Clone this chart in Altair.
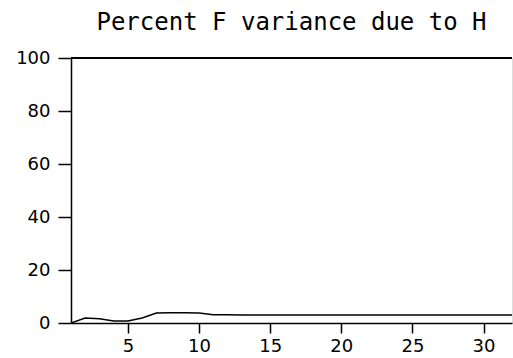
import altair as alt
import pandas as pd

# Variance decomposition: share of F's forecast-error variance explained by H
periods = list(range(1, 33))
percent_h = [0.0, 1.9, 1.6, 0.8, 0.8, 1.9, 3.8, 3.9, 3.9, 3.8,
             3.1, 3.1, 3.0, 3.0, 3.0, 3.0, 3.0, 3.0, 3.0, 3.0,
             3.0, 3.0, 3.0, 3.0, 3.0, 3.0, 3.0, 3.0, 3.0, 3.0,
             3.0, 3.0]
x_ticks = [5, 10, 15, 20, 25, 30]
y_ticks = [0, 20, 40, 60, 80, 100]
title_text = ["Percent F variance due to H"]

df = pd.DataFrame({"period": periods, "percent": percent_h})

x_scale = alt.Scale(domain=[1, 32], nice=False, zero=False)
y_scale = alt.Scale(domain=[0, 100], nice=False)

tick_font = "DejaVu Sans"

line = alt.Chart(df).mark_line(color="black", strokeWidth=1.5, clip=True).encode(
    x=alt.X("period:Q", scale=x_scale,
            axis=alt.Axis(values=x_ticks, title=None, grid=False,
                          tickSize=10, tickWidth=1.5, tickColor="black",
                          domainColor="black", domainWidth=1.5,
                          labelFont=tick_font, labelFontSize=18,
                          labelColor="black", labelPadding=4,
                          labelFlush=False)),
    y=alt.Y("percent:Q", scale=y_scale,
            axis=alt.Axis(values=y_ticks, title=None, grid=False,
                          tickSize=13, tickWidth=1.5, tickColor="black",
                          domainColor="black", domainWidth=1.5,
                          labelFont=tick_font, labelFontSize=18,
                          labelColor="black", labelPadding=8,
                          labelFlush=False)),
)

# top edge of the frame
top_edge = alt.Chart(pd.DataFrame({"v": [100]})).mark_rule(
    color="black", strokeWidth=2
).encode(y=alt.Y("v:Q", scale=y_scale))

# heading centred over the plot area
heading = alt.Chart(pd.DataFrame({"t": title_text})).mark_text(
    font="DejaVu Sans Mono", fontSize=24, color="black",
    align="center", baseline="alphabetic", clip=False,
).encode(x=alt.value(220.5), y=alt.value(-28), text="t:N")

chart = alt.layer(line, top_edge, heading).properties(
    width=441,
    height=265,
    padding={"left": 71, "top": 58, "right": 1, "bottom": 35},
    autosize=alt.AutoSizeParams(type="none"),
).configure_view(stroke="#d0d0d0", strokeWidth=1).configure(background="white")

chart.save("out.html", embed_options={"renderer": "svg", "actions": False})
